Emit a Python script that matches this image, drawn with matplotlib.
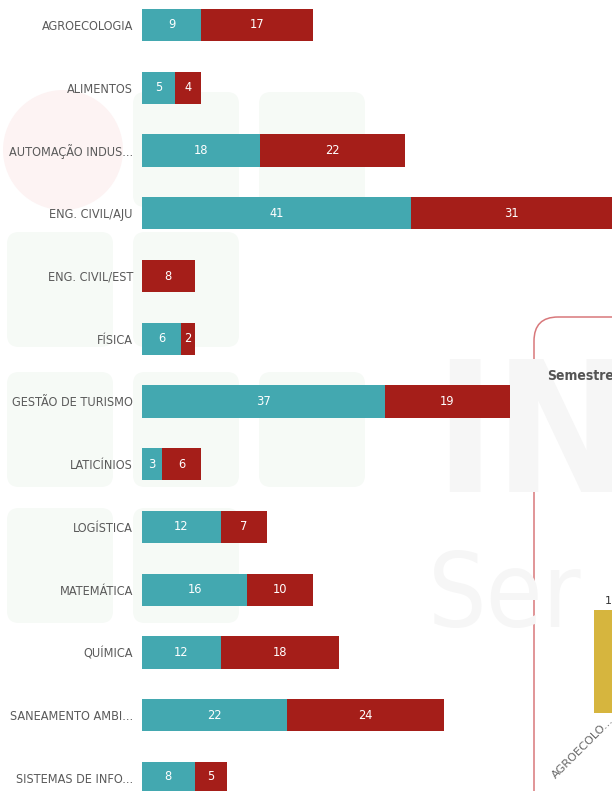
import matplotlib.pyplot as plt
from matplotlib.patches import FancyBboxPatch, Circle

# course names and the two stacked series (teal / red)
cursos = ["AGROECOLOGIA", "ALIMENTOS", "AUTOMAÇÃO INDUS...", "ENG. CIVIL/AJU",
          "ENG. CIVIL/EST", "FÍSICA", "GESTÃO DE TURISMO", "LATICÍNIOS",
          "LOGÍSTICA", "MATEMÁTICA", "QUÍMICA", "SANEAMENTO AMBI...",
          "SISTEMAS DE INFO..."]
serie_a = [9, 5, 18, 41, 0, 6, 37, 3, 12, 16, 12, 22, 8]
serie_b = [17, 4, 22, 31, 8, 2, 19, 6, 7, 10, 18, 24, 5]

# right-hand panel (only partly visible)
sem_cats = ["AGROECOLO..."]
sem_vals = [1]

TEAL = "#43A8B0"
RED = "#A51E19"
GOLD = "#D6B53E"
LABEL = "#5a5a5a"

W, H = 612, 791
fig = plt.figure(figsize=(W / 100, H / 100), dpi=100)
fig.patch.set_facecolor("white")

# background layer in pixel coords: faded logo watermark + panel frame
bg = fig.add_axes([0, 0, 1, 1], zorder=0)
bg.set_xlim(0, W)
bg.set_ylim(H, 0)
bg.axis("off")

bg.add_patch(Circle((63, 150), 60, color="#FDF3F3", lw=0))
cells = [(1, 0), (2, 0), (0, 1), (1, 1), (0, 2), (1, 2), (2, 2), (0, 3), (1, 3)]
col_x = [7, 133, 259]
row_y = [92, 232, 372, 508]
for c, r in cells:
    bg.add_patch(FancyBboxPatch((col_x[c], row_y[r]), 106, 115,
                                boxstyle="round,pad=0,rounding_size=12",
                                fc="#F6FAF6", ec="none"))

bg.text(434, 492, "INS", fontsize=130, color="#F6F6F6", fontweight="bold",
        ha="left", va="baseline", fontstretch="condensed")
bg.text(428, 627, "Ser", fontsize=74, color="#F6F6F6", fontweight="light",
        ha="left", va="baseline", fontstretch="condensed")

bg.add_patch(FancyBboxPatch((534, 317), 200, 600,
                            boxstyle="round,pad=0,rounding_size=24",
                            fc="none", ec="#D8787B", lw=1.1))
bg.text(547, 376, "Semestre", fontsize=10, color="#555555", fontweight="bold",
        ha="left", va="center", fontstretch="condensed")

# main stacked horizontal bars
px_per_unit = 6.57
ax = fig.add_axes([142 / W, 0, (W - 142) / W, 1], zorder=2)
ax.set_facecolor("none")
ypos = list(range(len(cursos)))
b1 = ax.barh(ypos, serie_a, height=0.51, color=TEAL)
b2 = ax.barh(ypos, serie_b, left=serie_a, height=0.51, color=RED)
ax.bar_label(b1, labels=[str(v) if v else "" for v in serie_a],
             label_type="center", color="white", fontsize=9.2,
             fontstretch="condensed")
ax.bar_label(b2, labels=[str(v) if v else "" for v in serie_b],
             label_type="center", color="white", fontsize=9.2,
             fontstretch="condensed")

ax.set_xlim(0, (W - 142) / px_per_unit)
ax.set_ylim((H - 25) / 62.75, -25 / 62.75)
ax.set_yticks(ypos)
ax.set_yticklabels(cursos, fontsize=9.1, color=LABEL, fontstretch="condensed")
ax.tick_params(axis="y", length=0, pad=6.5)
ax.set_xticks([])
for s in ax.spines.values():
    s.set_visible(False)

# partial panel chart on the right
ax2 = fig.add_axes([558 / W, (H - 713) / H, 100 / W, 124 / H], zorder=3)
ax2.set_facecolor("none")
sb = ax2.bar(range(len(sem_cats)), sem_vals, width=0.28, color=GOLD)
ax2.bar_label(sb, padding=3, fontsize=8, color="#333333")
ax2.set_xlim(-0.5, 0.5)
ax2.set_ylim(0, 1.2)
ax2.set_xticks(range(len(sem_cats)))
ax2.set_xticklabels(sem_cats, rotation=45, ha="right", rotation_mode="anchor",
                    fontsize=8.2, color="#666666")
ax2.tick_params(axis="x", length=0, pad=2)
ax2.set_yticks([])
for s in ax2.spines.values():
    s.set_visible(False)

fig.savefig("out.png", dpi=100)
